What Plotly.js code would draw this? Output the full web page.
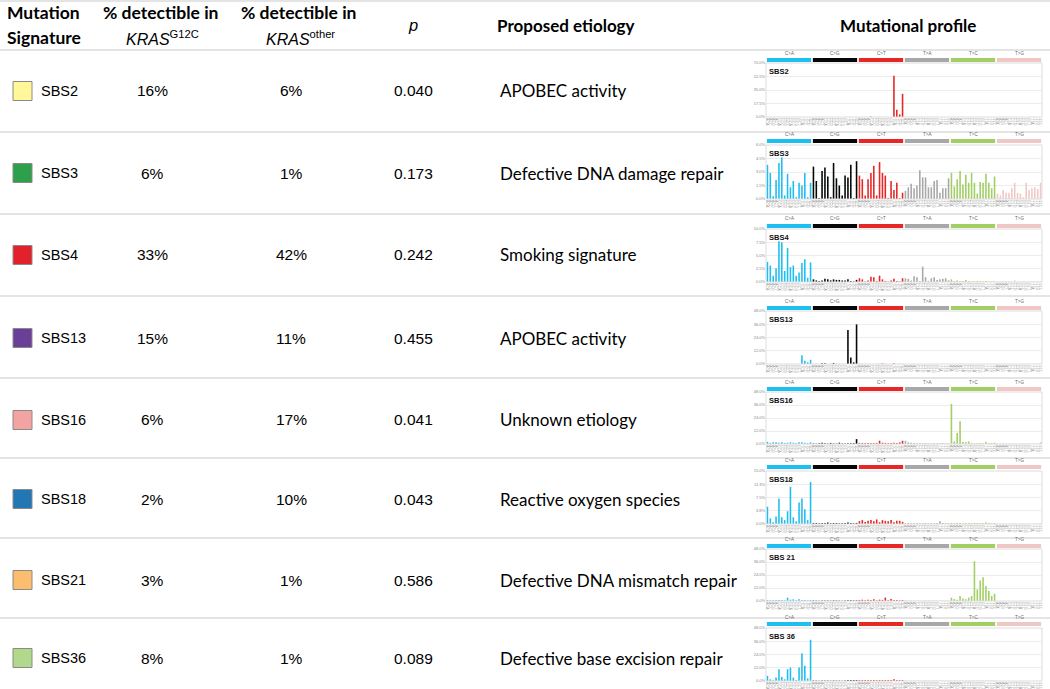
<!DOCTYPE html>
<html>
<head>
<meta charset="utf-8">
<script src="https://cdn.plot.ly/plotly-3.0.1.min.js"></script>
<style>
html,body{margin:0;padding:0;background:#fff;}
#chart{width:1050px;height:689px;}
</style>
</head>
<body>
<div id="chart"></div>
<script>
// ---------------- DATA ----------------
const signatures = ["SBS2","SBS3","SBS4","SBS13","SBS16","SBS18","SBS21","SBS36"];
const profileTitles = ["SBS2","SBS3","SBS4","SBS13","SBS16","SBS18","SBS 21","SBS 36"];
const sigColors = ["#fff79a","#2e9f4a","#e2222a","#6b3f98","#f4a3a3","#2176b3","#fdbd6e","#b2d98b"];
const pctG12C = ["16%","6%","33%","15%","6%","2%","3%","8%"];
const pctOther = ["6%","1%","42%","11%","17%","10%","1%","1%"];
const pValues = ["0.040","0.173","0.242","0.455","0.041","0.043","0.586","0.089"];
const etiology = ["APOBEC activity","Defective DNA damage repair","Smoking signature","APOBEC activity",
  "Unknown etiology","Reactive oxygen species","Defective DNA mismatch repair","Defective base excision repair"];

const mutTypes = ["C>A","C>G","C>T","T>A","T>C","T>G"];
const flanks = ["A","C","G","T"];
const yMax = [70, 6, 10, 48, 48, 15, 48, 48];

// 96-channel profiles (%), order: C>A, C>G, C>T, T>A, T>C, T>G; 16 contexts each
const sbs2 = [
 0,0,0,0,0,0,0,0,0,0,0,0,0,0,0,0,
 0,0,0,0,0,0,0,0,0,0,0,0,0,0,0,0,
 0,0,0,0,0.5,0,0,0,0,0,0,0,53.5,9.5,3.4,30.0,
 0,0,0,0,0,0,0,0,0,0,0,0,0,0,0,0,
 0,0,0,0,0,0,0,0,0,0,0,0,0,0,0,0,
 0,0,0,0,0,0,0,0,0,0,0,0,0,0,0,0];
const sbs3 = [
 3.8,2.9,0.3,2.1,4.0,4.6,0.4,2.8,1.3,2.0,0.2,1.8,1.5,2.9,0.2,1.8,
 3.6,2.0,0.1,3.1,3.5,2.5,0.2,4.0,2.3,1.5,0.4,2.6,2.4,3.8,0.1,4.2,
 2.6,2.2,0.4,2.2,2.9,3.7,0.4,4.1,2.9,2.6,0.1,2.0,1.0,1.8,0.1,0.7,
 0.9,1.3,1.7,1.2,1.5,3.2,2.4,2.4,1.3,1.3,2.0,2.1,0.7,1.2,1.2,2.3,
 2.9,1.4,2.2,3.1,1.6,2.7,1.8,2.9,1.8,0.6,1.9,1.8,2.8,1.8,1.2,2.5,
 0.6,0.4,1.0,0.7,0.7,1.2,1.8,0.7,0.6,0.2,1.8,1.0,1.2,1.3,1.1,1.8];
const sbs4 = [
 3.8,3.1,1.2,2.6,7.7,7.5,2.1,6.4,2.8,3.1,1.2,1.8,3.6,4.3,0.8,3.7,
 0.5,0.3,0.2,0.3,0.6,0.5,0.3,0.5,0.4,0.4,0.3,0.3,0.5,0.2,0.1,0.4,
 0.7,0.5,0.1,0.3,1.0,0.9,0.2,1.2,0.5,0.2,0.1,0.3,0.6,0.2,0.1,0.7,
 0.7,0.6,0.3,1.1,0.9,0.2,2.9,0.9,0.2,0.7,0.9,0.4,0.5,0.6,0.7,0.3,
 0.5,0.2,0.3,0.2,0.2,0.4,0.2,0.1,0.1,0.2,0.1,0.1,0.2,0.1,0.1,0.1,
 0.1,0.1,0.1,0.1,0.1,0.1,0.3,0.1,0.1,0.1,0.1,0.1,0.1,0.1,0.1,0.1];
const sbs13 = [
 0.1,0.1,0.1,0.1,0.1,0.1,0.1,0.1,0.1,0.1,0.1,0.1,8.0,2.9,1.5,3.8,
 0.1,0.1,0.1,0.6,0.6,0.1,0.1,0.9,0.1,0.1,0.1,0.1,30.9,5.9,1.5,35.9,
 0.1,0.1,0.1,0.1,0.1,0.1,0.1,0.1,0.6,0.1,0.1,0.1,0.6,0.1,0.1,0.1,
 0,0,0,0,0,0,0,0,0,0,0,0,0,0,0,0,
 0,0,0,0,0,0,0,0,0,0,0,0,0,0,0,0,
 0,0,0,0,0,0,0,0,0,0,0,0,0,0,0,0];
const sbs16 = [
 2.0,1.0,1.5,1.5,1.2,1.5,1.0,1.2,1.5,1.2,1.0,1.5,1.5,1.2,0.8,1.5,
 0.5,0.3,0.6,1.2,0.8,0.5,1.0,0.5,0.4,1.2,0.5,0.5,0.8,0.6,0.8,4.5,
 1.0,1.0,1.0,1.0,1.0,1.0,1.0,3.0,1.2,1.0,0.8,1.0,1.2,1.0,1.5,3.0,
 3.0,1.5,1.2,1.0,0.8,0.6,0.5,0.8,0.5,0.4,0.6,0.8,0.6,0.6,0.5,0.6,
 37.0,2.4,10.2,21.0,1.8,1.5,2.4,0.9,0.6,0.6,0.9,0.6,1.8,0.6,0.9,1.2,
 0.5,0.5,0.4,0.5,0.5,0.4,0.5,0.5,0.4,0.5,0.4,0.5,0.5,0.4,0.5,1.8];
const sbs18 = [
 4.9,1.6,0.5,2.1,7.2,1.9,1.1,3.6,10.5,1.9,0.8,6.1,7.2,4.2,1.1,11.9,
 0.3,0.3,0.2,0.3,0.3,0.4,0.2,0.3,0.3,0.2,0.2,0.3,0.4,0.3,0.2,0.3,
 0.8,1.1,0.6,0.9,1.1,0.8,1.3,0.5,1.1,0.9,0.8,1.1,0.5,0.9,0.9,0.6,
 0.2,0.3,0.2,0.2,0.3,0.2,0.2,0.3,0.2,0.2,0.2,0.3,0.8,0.3,0.2,0.2,
 0.3,0.2,0.3,0.3,0.2,0.3,0.3,0.2,0.3,0.3,0.2,0.3,0.4,0.3,0.2,0.3,
 0.1,0.1,0.1,0.1,0.1,0.1,0.1,0.1,0.1,0.1,0.1,0.1,0.1,0.1,0.1,0.2];
const sbs21 = [
 0.9,0.6,0.6,0.9,0.9,0.9,0.6,3.1,1.2,1.5,0.6,1.5,0.9,0.9,0.6,0.9,
 0.5,0.4,0.3,0.5,0.5,0.4,0.3,0.6,0.5,0.4,0.3,0.5,0.6,0.6,0.5,0.6,
 1.0,1.2,0.6,1.2,1.0,1.5,0.6,1.2,1.0,3.1,0.6,1.8,1.0,0.9,0.6,0.9,
 0.3,0.2,0.3,0.3,0.2,0.3,0.2,0.3,0.3,0.2,0.2,0.3,0.2,0.3,0.2,0.2,
 3.1,1.8,1.2,4.6,2.4,1.5,3.1,4.6,36.7,10.7,19.0,22.0,13.8,9.2,4.6,6.7,
 0.1,0.1,0.1,0.1,0.1,0.1,0.1,0.1,0.1,0.1,0.1,0.1,0.1,0.1,0.1,0.1];
const sbs36 = [
 4.6,1.5,0.6,3.1,10.7,3.7,1.5,10.7,12.2,3.1,0.9,12.2,25.1,13.8,2.4,37.3,
 0.5,0.4,0.3,0.4,0.4,0.4,0.3,0.5,0.4,0.4,0.3,0.4,0.9,0.9,0.9,0.9,
 0.9,0.9,0.8,0.9,0.9,0.9,0.8,0.9,0.9,0.9,0.8,0.9,1.5,0.9,0.8,0.9,
 0.2,0.2,0.2,0.2,0.2,0.2,0.2,0.2,0.2,0.2,0.2,0.2,0.2,0.2,0.2,0.2,
 0.3,0.3,0.3,0.3,0.3,0.3,0.3,0.3,0.3,0.3,0.3,0.3,0.3,0.3,0.3,0.3,
 0.1,0.1,0.1,0.1,0.1,0.1,0.1,0.1,0.1,0.1,0.1,0.1,0.1,0.1,0.1,0.1];
const profiles = [sbs2, sbs3, sbs4, sbs13, sbs16, sbs18, sbs21, sbs36];

// ---------------- STYLE / LAYOUT ----------------
const classColors = ["#1ebff0","#050708","#e62725","#a8a8a8","#a1cf64","#efc8c6"];
const W = 1050, H = 689;
const py = p => 1 - p / H;
const px = p => p / W;
const rowLines = [1, 50, 132, 214, 296, 378, 458, 538, 618];
const rowMid = [91, 173, 255, 338, 420, 499, 580, 658];
const bandTop = [58, 139, 224, 306, 387, 465, 544, 622];
const plotTop = [63, 145, 229, 311, 392, 471, 549, 628];
const plotBot = [117, 199, 282, 364, 444, 524, 601, 681];
const plotL = 766, plotR = 1042;

const txtFont = "Liberation Sans, Arial, sans-serif";
const calFont = "Lato, Open Sans, sans-serif";

// contexts
const ctxLabels = [], ctxIdx = [], ctxColors = [];
mutTypes.forEach((m, g) => {
  const mid = m[0];
  flanks.forEach(a => flanks.forEach(b => {
    ctxIdx.push(ctxLabels.length);
    ctxLabels.push(a + mid + b);
    ctxColors.push(classColors[g]);
  }));
});

const traces = [];
const layout = {
  width: W, height: H,
  margin: {l: 0, r: 0, t: 0, b: 0},
  paper_bgcolor: "#ffffff", plot_bgcolor: "#ffffff",
  showlegend: false, bargap: 0.45,
  annotations: [], shapes: []
};

const fmt = v => (Math.round(v * 10) / 10).toFixed(1) + "%";

profiles.forEach((prof, i) => {
  const n = i + 2;
  traces.push({
    type: "bar", x: ctxIdx, y: prof,
    xaxis: "x" + n, yaxis: "y" + n,
    marker: {color: ctxColors, line: {width: 0}},
    hoverinfo: "none"
  });
  const tv = [0, 1, 2, 3, 4].map(k => yMax[i] * k / 4);
  layout["xaxis" + n] = {
    domain: [px(plotL), px(plotR)], anchor: "y" + n,
    range: [-0.5, 95.5], tickvals: ctxIdx, ticktext: ctxLabels,
    tickangle: 90, tickfont: {size: 3.6, color: "#a0a0a0", family: txtFont},
    ticks: "", showgrid: false, zeroline: false, showline: false, fixedrange: true
  };
  layout["yaxis" + n] = {
    domain: [py(plotBot[i]), py(plotTop[i])], anchor: "x" + n,
    range: [0, yMax[i]], tickvals: tv, ticktext: tv.map(fmt),
    tickfont: {size: 4, color: "#888", family: txtFont},
    ticks: "", showgrid: true, gridcolor: "#ececec", gridwidth: 1,
    zeroline: false, showline: false, fixedrange: true
  };
  // frame
  layout.shapes.push({type: "rect", xref: "x" + n + " domain", yref: "y" + n + " domain",
    x0: 0, x1: 1, y0: 0, y1: 1, line: {color: "#dcdcdc", width: 1}, fillcolor: "rgba(0,0,0,0)"});
  // class bands + labels
  mutTypes.forEach((m, g) => {
    layout.shapes.push({type: "rect", xref: "x" + n, yref: "paper",
      x0: g * 16 - 0.2, x1: g * 16 + 15.2, y0: py(bandTop[i] + 4), y1: py(bandTop[i]),
      fillcolor: classColors[g], line: {width: 0}});
    layout.annotations.push({xref: "x" + n, yref: "paper", x: g * 16 + 7.5, y: py(bandTop[i] - 0.5),
      text: m.replace(">", "&gt;"), showarrow: false, xanchor: "center", yanchor: "bottom",
      font: {size: 4.5, color: "#666", family: txtFont}});
  });
  // signature title inside
  layout.annotations.push({xref: "paper", yref: "paper", x: px(plotL + 1), y: py(plotTop[i] + 2),
    text: "<b>" + profileTitles[i] + "</b>", showarrow: false, xanchor: "left", yanchor: "top",
    font: {size: 7.5, color: "#111", family: txtFont}});
});

// row separator lines
rowLines.forEach(y => {
  layout.shapes.push({type: "line", xref: "paper", yref: "paper", x0: 0, x1: 1,
    y0: py(y), y1: py(y), line: {color: "#e4e4e4", width: 2}});
});

// header
const hdr = (text, x, y, anchor, font, size) => layout.annotations.push({
  xref: "paper", yref: "paper", x: px(x), y: py(y), text: text, showarrow: false,
  xanchor: anchor, yanchor: "middle", font: {family: font, size: size, color: "#000"}});
hdr("<b>Mutation</b>", 5, 13, "left", calFont, 17.5);
hdr("<b>Signature</b>", 5, 37, "left", calFont, 17.5);
hdr("<b>% detectible in</b>", 160, 13, "center", calFont, 17.5);
hdr("<i>KRAS</i><sup>G12C</sup>", 162, 38, "center", txtFont, 16);
hdr("<b>% detectible in</b>", 298, 13, "center", calFont, 17.5);
hdr("<i>KRAS</i><sup>other</sup>", 300, 38, "center", txtFont, 16);
hdr("<i>p</i>", 413, 25, "center", txtFont, 16.5);
hdr("<b>Proposed etiology</b>", 566, 25, "center", calFont, 17);
hdr("<b>Mutational profile</b>", 908, 25, "center", calFont, 17);

// rows
signatures.forEach((s, i) => {
  const y = rowMid[i];
  layout.shapes.push({type: "rect", xref: "paper", yref: "paper",
    x0: px(13), x1: px(32), y0: py(y + 9.5), y1: py(y - 9.5),
    fillcolor: sigColors[i], line: {color: "#8a8a8a", width: 1}});
  hdr(s, 39, y, "left", txtFont, 14.5);
  hdr(pctG12C[i], 152, y, "center", txtFont, 15.5);
  hdr(pctOther[i], 291, y, "center", txtFont, 15.5);
  hdr(pValues[i], 413, y, "center", txtFont, 15.5);
  hdr(etiology[i], 498, y, "left", calFont, 17);
});

Plotly.newPlot("chart", traces, layout, {staticPlot: true, displayModeBar: false});
</script>
</body>
</html>
